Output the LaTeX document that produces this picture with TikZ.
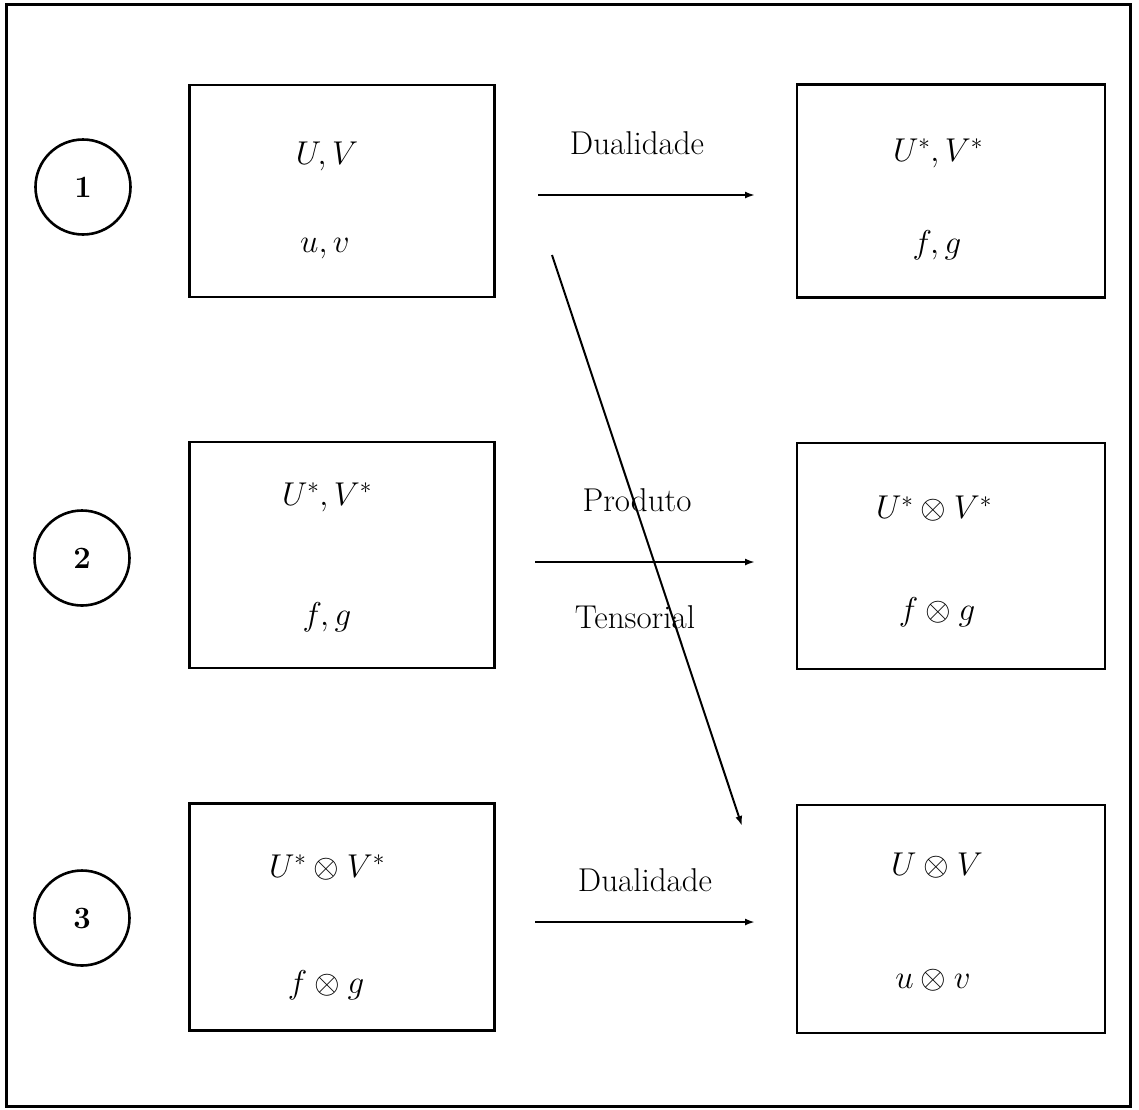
\RequirePackage{fix-cm}
\documentclass[tikz,border=0pt]{standalone}
\usetikzlibrary{arrows.meta}
\begin{document}
\begin{tikzpicture}[x=1pt,y=-1pt,
  every node/.style={font=\fontsize{33}{40}\selectfont, inner sep=0pt},
  boxnode/.style={draw, line width=2.8pt, minimum width=305pt, minimum height=212pt, inner sep=0pt},
  numcirc/.style={draw, circle, line width=2.6pt, minimum size=95pt, font=\fontsize{31}{38}\selectfont\bfseries},
  arr/.style={-{Latex[length=10pt,width=7pt]}, line width=2.4pt},
  diag/.style={-{Latex[length=10pt,width=7pt]}, line width=2pt}]
\useasboundingbox (0,0) rectangle (1139,1109);
\draw[line width=3pt] (6,4) rectangle (1130,1106);

% circles
\node[numcirc] (c1) at (83,187) {1};
\node[numcirc] (c2) at (82,558) {2};
\node[numcirc] (c3) at (82,918) {3};

% boxes
\node[boxnode, minimum height=212pt] (L1) at (342,191) {};
\node[boxnode, minimum height=226pt] (L2) at (342,555) {};
\node[boxnode, minimum height=227pt] (L3) at (342,917) {};
\node[boxnode, minimum width=308pt, minimum height=213pt] (R1) at (951,191) {};
\node[boxnode, minimum width=308pt, minimum height=226pt] (R2) at (951,556) {};
\node[boxnode, minimum width=308pt, minimum height=228pt] (R3) at (951,919) {};

% texts
\node (L1a) at (327,156) {$U, V$};
\node (L1b) at (325,249) {$u, v$};
\node (R1a) at (938,153) {$U^*, V^*$};
\node (R1b) at (937,245) {$f, g$};
\node (L2a) at (327,497) {$U^*, V^*$};
\node (L2b) at (327,617) {$f, g$};
\node (R2a) at (934,509) {$U^* \otimes V^*$};
\node (R2b) at (937,612) {$f \otimes g$};
\node (L3a) at (327,867) {$U^* \otimes V^*$};
\node (L3b) at (326,985) {$f \otimes g$};
\node (R3a) at (937,866) {$U \otimes V$};
\node (R3b) at (933,980) {$u \otimes v$};

% arrow labels
\node (t1) at (637,143) {Dualidade};
\node (t2) at (637,500) {Produto};
\node (t3) at (635,617) {Tensorial};
\node (t4) at (645,880) {Dualidade};

% arrow endpoints
\coordinate (a1s) at (538,195);
\coordinate (a1e) at (755,195);
\coordinate (a2s) at (535,562);
\coordinate (a2e) at (755,562);
\coordinate (a3s) at (535,922);
\coordinate (a3e) at (755,922);
\coordinate (ds) at (552,255);
\coordinate (de) at (742,826);

\draw[arr] (a1s) -- (a1e);
\draw[arr] (a2s) -- (a2e);
\draw[arr] (a3s) -- (a3e);
\draw[diag] (ds) -- (de);
\end{tikzpicture}
\end{document}
